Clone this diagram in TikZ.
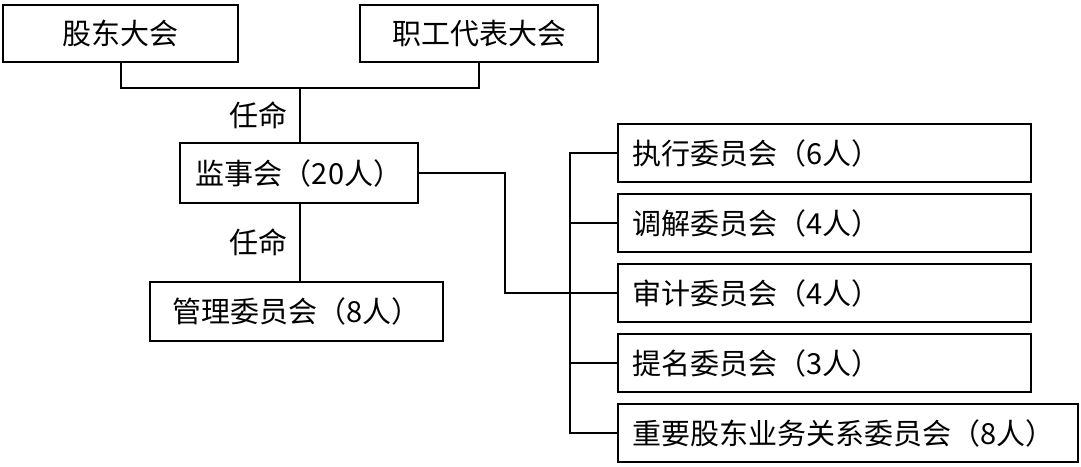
\documentclass[tikz,border=0pt]{standalone}
\usepackage{fontspec}
\setmainfont{Noto Sans CJK SC}
\usetikzlibrary{positioning}

\tikzset{
  orgbox/.style={draw,line width=2pt,rectangle,inner sep=0pt,
    font=\fontsize{29}{32}\selectfont},
  subbox/.style={orgbox,anchor=west,minimum height=58pt,inner xsep=14pt,
    text width=385pt,align=left},
  link/.style={line width=2pt},
}

\begin{document}
\begin{tikzpicture}[x=1pt,y=-1pt]
  \useasboundingbox (0,0) rectangle (1081,466);
  % top level
  \node[orgbox,minimum width=235pt,minimum height=57pt] (gdh) at (120.5,33.5) {股东大会};
  \node[orgbox,minimum width=238pt,minimum height=57pt] (zgh) at (479,33.5) {职工代表大会};
  \coordinate (join) at (300,88);
  % supervisory board and management
  \node[orgbox,minimum width=238pt,minimum height=60pt] (jsh) at (299,173) {监事会（20人）};
  \node[orgbox,minimum width=293pt,minimum height=59pt] (glwy) at (296.5,311) {管理委员会（8人）};
  % committees
  \node[subbox] (zxwy) at (617,153) {执行委员会（6人）};
  \node[subbox] (tjwy) at (617,223) {调解委员会（4人）};
  \node[subbox] (sjwy) at (617,293) {审计委员会（4人）};
  \node[subbox] (tmwy) at (617,363) {提名委员会（3人）};
  \node[subbox,text width=432pt] (zygd) at (617,433) {重要股东业务关系委员会（8人）};
  \coordinate (bustop) at (570,153);
  \coordinate (busbot) at (570,433);
  \coordinate (turn) at (505,293);

  \draw[link] (gdh.south) |- (join) -| (zgh.south);
  \draw[link] (join) -- (join |- jsh.north)
    node[midway,left=8pt,font=\fontsize{29}{32}\selectfont] {任命};
  \draw[link] (jsh.south -| join) -- (join |- glwy.north)
    node[midway,left=8pt,font=\fontsize{29}{32}\selectfont] {任命};
  \draw[link] (jsh.east) -| (turn) -- (sjwy.west);
  \draw[link] (zxwy.west) -- (bustop) -- (busbot) -- (zygd.west);
  \foreach \n in {tjwy,tmwy}
    \draw[link] (\n.west) -- (\n.west -| bustop);
\end{tikzpicture}
\end{document}
